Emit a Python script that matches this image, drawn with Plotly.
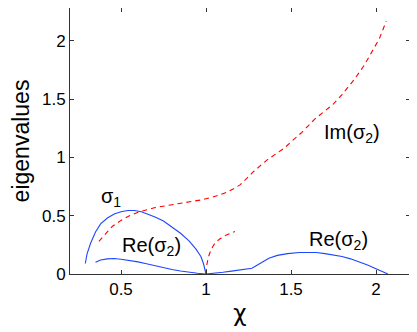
import plotly.graph_objects as go

# sigma_1 (real, blue solid)
sigma1_x = [0.29, 0.30, 0.32, 0.35, 0.38, 0.42, 0.46, 0.50, 0.54, 0.58, 0.62, 0.66,
            0.70, 0.75, 0.80, 0.85, 0.90, 0.94, 0.97, 0.985, 0.995, 1.0]
sigma1_y = [0.09, 0.17, 0.26, 0.36, 0.43, 0.48, 0.515, 0.535, 0.545, 0.545, 0.535, 0.515,
            0.49, 0.455, 0.405, 0.35, 0.285, 0.215, 0.15, 0.09, 0.03, 0.0]

# Re(sigma_2) (blue solid)
re_x = [0.35, 0.38, 0.42, 0.46, 0.50, 0.55, 0.60, 0.65, 0.70, 0.75, 0.80, 0.85, 0.90,
        0.95, 1.0, 1.05, 1.10, 1.15, 1.20, 1.25, 1.27, 1.30, 1.33, 1.37, 1.42, 1.48,
        1.55, 1.60, 1.65, 1.70, 1.75, 1.80, 1.85, 1.90, 1.95, 2.0, 2.05, 2.07]
re_y = [0.10, 0.12, 0.13, 0.133, 0.127, 0.117, 0.104, 0.088, 0.07, 0.052, 0.038, 0.026,
        0.015, 0.006, 0.0, 0.005, 0.015, 0.025, 0.033, 0.043, 0.05, 0.075, 0.10, 0.135,
        0.16, 0.175, 0.184, 0.186, 0.184, 0.175, 0.163, 0.15, 0.13, 0.105, 0.077, 0.045,
        0.015, 0.0]

# Im(sigma_2) (red dashed), main branch
im_x = [0.37, 0.40, 0.45, 0.50, 0.55, 0.60, 0.65, 0.70, 0.80, 0.90, 0.97, 1.04, 1.08,
        1.12, 1.16, 1.20, 1.24, 1.28, 1.32, 1.36, 1.40, 1.46, 1.52, 1.56, 1.60, 1.64,
        1.70, 1.75, 1.80, 1.87, 1.93, 1.97, 2.02, 2.06]
im_y = [0.28, 0.33, 0.41, 0.46, 0.50, 0.53, 0.55, 0.57, 0.595, 0.62, 0.635, 0.66, 0.68,
        0.70, 0.73, 0.765, 0.82, 0.88, 0.93, 0.98, 1.02, 1.08, 1.16, 1.21, 1.27, 1.33,
        1.40, 1.46, 1.54, 1.665, 1.79, 1.89, 2.02, 2.17]

# second red dashed branch starting at chi = 1
im2_x = [1.0, 1.005, 1.015, 1.03, 1.05, 1.08, 1.12, 1.17]
im2_y = [0.0, 0.08, 0.15, 0.21, 0.26, 0.30, 0.335, 0.365]

blue = "rgb(30,70,255)"
red = "rgb(255,0,0)"
fnt = "Liberation Sans, Arial, sans-serif"

fig = go.Figure()
fig.add_trace(go.Scatter(x=sigma1_x, y=sigma1_y, mode="lines",
                         line=dict(color=blue, width=1.1)))
fig.add_trace(go.Scatter(x=re_x, y=re_y, mode="lines",
                         line=dict(color=blue, width=1.1)))
fig.add_trace(go.Scatter(x=im_x, y=im_y, mode="lines",
                         line=dict(color=red, width=1.1, dash="5px,4px")))
fig.add_trace(go.Scatter(x=im2_x, y=im2_y, mode="lines",
                         line=dict(color=red, width=1.1, dash="5px,4px")))

etykiety = [
    (0.44, 0.66, "σ<sub>1</sub>"),
    (0.68, 0.24, "Re(σ<sub>2</sub>)"),
    (1.78, 0.29, "Re(σ<sub>2</sub>)"),
    (1.86, 1.21, "Im(σ<sub>2</sub>)"),
]
for ex, ey, tekst in etykiety:
    fig.add_annotation(x=ex, y=ey, text=tekst, showarrow=False,
                       font=dict(size=20, color="black", family=fnt))

os_styl = dict(showline=True, linecolor="#333", linewidth=1, mirror="ticks",
               ticks="inside", ticklen=4, tickcolor="#333", showgrid=False,
               zeroline=False, automargin=False,
               tickfont=dict(size=17, color="black", family=fnt))

fig.update_xaxes(range=[0.2, 2.2], tickvals=[0.5, 1, 1.5, 2],
                 ticktext=["0.5", "1", "1.5", "2"],
                 title=dict(text="χ",
                            font=dict(size=23, color="black", family="DejaVu Sans"),
                            standoff=6),
                 **os_styl)
fig.update_yaxes(range=[0, 2.283], tickvals=[0, 0.5, 1, 1.5, 2],
                 ticktext=["0", "0.5", "1", "1.5", "2"],
                 title=dict(text="eigenvalues",
                            font=dict(size=23, color="black", family=fnt),
                            standoff=5),
                 **os_styl)

# strona ma 8px marginesu body, wiec kompensujemy
fig.update_layout(width=417, height=332, showlegend=False,
                  plot_bgcolor="white", paper_bgcolor="white",
                  margin=dict(l=62, r=15, t=0, b=66))

fig.write_html("out.html")
